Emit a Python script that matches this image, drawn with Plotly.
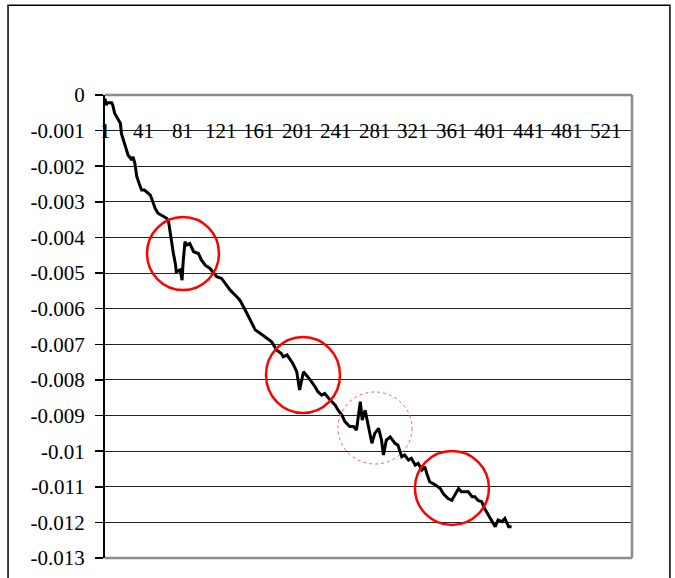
import plotly.graph_objects as go

# ---- data ----
categories = [1, 2, 4, 8, 9, 11, 15, 17, 18, 22, 25, 29, 30, 32, 34, 37, 39, 42, 48, 50,
              53, 56, 62, 65, 67, 69, 72, 74, 75, 79, 81, 82, 84, 86, 88, 89, 93, 98, 101, 105,
              110, 117, 122, 127, 131, 138, 141, 146, 151, 157, 162, 167, 174, 176, 179, 184, 186, 190, 193, 196,
              200, 203, 207, 210, 214, 219, 222, 226, 229, 235, 240, 243, 247, 250, 255, 259, 262, 266, 268, 271,
              274, 278, 281, 285, 288, 290, 293, 297, 302, 305, 309, 312, 316, 319, 323, 326, 330, 333, 335, 338,
              344, 349, 352, 357, 361, 364, 368, 371, 375, 378, 382, 385, 388, 392, 395, 399, 402, 406, 409, 413,
              416, 420, 423]
values_milli = [-0.10, -0.28, -0.22, -0.22, -0.28, -0.51, -0.70, -0.79, -1.08, -1.40, -1.69, -1.83, -1.73, -1.92, -2.29, -2.53, -2.67, -2.67, -2.81, -2.95,
                -3.18, -3.32, -3.42, -3.46, -3.56, -3.98, -4.45, -4.73, -4.96, -4.91, -5.20, -4.73, -4.12, -4.21, -4.17, -4.17, -4.40, -4.45, -4.63, -4.78,
                -4.87, -5.10, -5.15, -5.34, -5.48, -5.67, -5.76, -6.01, -6.26, -6.60, -6.69, -6.79, -6.93, -7.02, -7.16, -7.26, -7.35, -7.30, -7.44, -7.54,
                -7.77, -8.28, -7.77, -7.86, -8.00, -8.19, -8.33, -8.43, -8.38, -8.57, -8.71, -8.85, -8.99, -9.17, -9.31, -9.31, -9.41, -8.61, -9.13, -8.85,
                -9.22, -9.78, -9.50, -9.36, -9.69, -10.11, -9.69, -9.60, -9.78, -9.83, -10.16, -10.11, -10.25, -10.20, -10.39, -10.34, -10.53, -10.44, -10.63, -10.86,
                -10.95, -11.05, -11.19, -11.33, -11.38, -11.24, -11.05, -11.14, -11.14, -11.14, -11.28, -11.28, -11.38, -11.42, -11.61, -11.79, -11.93, -12.12, -11.93, -11.98,
                -11.89, -12.12, -12.12]
values = [v / 1000.0 for v in values_milli]

x_tick_labels = ["1", "41", "81", "121", "161", "201", "241", "281", "321", "361", "401", "441", "481", "521"]
y_tick_vals = [0, -0.001, -0.002, -0.003, -0.004, -0.005, -0.006, -0.007, -0.008, -0.009, -0.01, -0.011, -0.012, -0.013]
y_tick_text = ["0", "-0.001", "-0.002", "-0.003", "-0.004", "-0.005", "-0.006", "-0.007", "-0.008", "-0.009", "-0.01", "-0.011", "-0.012", "-0.013"]

# highlight circles (category x0, x1, value y0, y1, style)
circles = [
    (44.6, 119.3, -0.003426, -0.005475, "solid"),
    (168.1, 244.9, -0.006795, -0.008929, "solid"),
    (242.8, 319.6, -0.008339, -0.010361, "dot"),
    (322.7, 399.5, -0.009996, -0.012073, "solid"),
]

FONT = "Liberation Serif"

fig = go.Figure()
fig.add_trace(go.Scatter(x=categories, y=values, mode="lines",
                         line=dict(color="black", width=3), hoverinfo="skip"))

shapes = []
for x0, x1, y0, y1, style in circles:
    if style == "solid":
        line = dict(color="#ff0000", width=2.5)
    else:
        line = dict(color="#f06060", width=1, dash="dot")
    shapes.append(dict(type="circle", xref="x", yref="y", x0=x0, x1=x1, y0=y0, y1=y1,
                       line=line, layer="above"))

# gray plot border (top, right, bottom)
for (x0, y0, x1, y1) in [(0, 1, 1, 1), (1, 0, 1, 1), (0, 0, 1, 0)]:
    shapes.append(dict(type="line", xref="paper", yref="paper", x0=x0, y0=y0, x1=x1, y1=y1,
                       line=dict(color="#8c8c8c", width=2.5), layer="above"))
# outer chart frame
shapes.append(dict(type="rect", xref="paper", yref="paper", x0=-0.184, x1=1.072, y0=-0.1, y1=1.194,
                   line=dict(color="black", width=1.5), layer="below"))

annotations = []
for lab in x_tick_labels:
    annotations.append(dict(x=int(lab), y=-0.001, xref="x", yref="y", text=lab, showarrow=False,
                            xanchor="center", yanchor="middle",
                            font=dict(family=FONT, size=21, color="black"), bgcolor="rgba(0,0,0,0)"))

fig.update_layout(
    width=675, height=578,
    margin=dict(l=105, r=43, t=95, b=20, autoexpand=False),
    paper_bgcolor="white", plot_bgcolor="white",
    showlegend=False,
    shapes=shapes,
    annotations=annotations,
    hovermode=False,
    xaxis=dict(range=[1, 548], showgrid=False, zeroline=False, showline=False,
               showticklabels=False, ticks="", automargin=False),
    yaxis=dict(range=[-0.013, 0], tickvals=y_tick_vals, ticktext=y_tick_text,
               showgrid=True, gridcolor="#222222", gridwidth=1, zeroline=False,
               showline=True, linecolor="black", linewidth=2,
               ticks="outside", ticklen=8, tickwidth=1.5, tickcolor="black",
               ticklabelstandoff=6, automargin=False,
               tickfont=dict(family=FONT, size=21, color="black")),
)

fig.write_html("out.html", config={"displayModeBar": False, "staticPlot": True},
               post_script="document.body.style.margin='0';document.body.style.overflow='hidden';")
